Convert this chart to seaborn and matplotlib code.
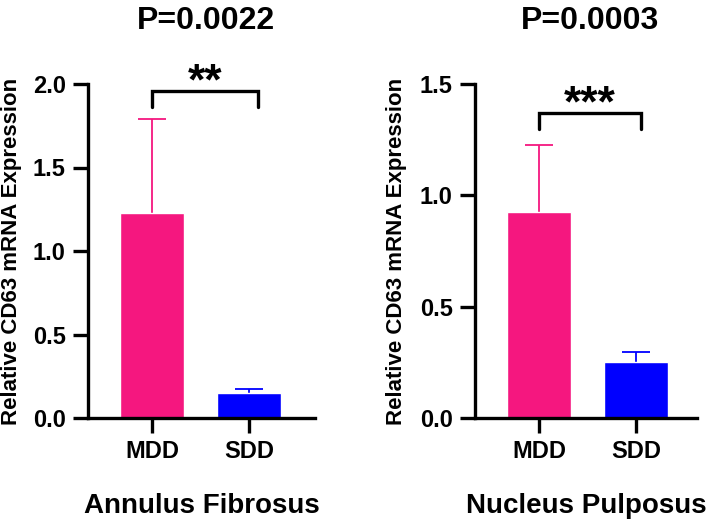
import numpy as np
import pandas as pd
import matplotlib
matplotlib.use("Agg")
import matplotlib.pyplot as plt
import seaborn as sns

# data
groups = ["MDD", "SDD"]
af_mean = [1.23, 0.15]
af_sd = [0.56, 0.025]
np_mean = [0.925, 0.25]
np_sd = [0.30, 0.045]
bar_colors = ["#F5177F", "#0000FF"]

panels = [
    dict(mean=af_mean, sd=af_sd, title="P=0.0022", stars="**", xlabel="Annulus Fibrosus",
         ymax=2.0, bracket_top=1.96, bracket_low=1.86, bracket_right=1.09),
    dict(mean=np_mean, sd=np_sd, title="P=0.0003", stars="***", xlabel="Nucleus Pulposus",
         ymax=1.5, bracket_top=1.37, bracket_low=1.30, bracket_right=1.05),
]

sns.set_style("ticks")
plt.rcParams['font.family'] = ['Liberation Sans', 'DejaVu Sans']
plt.rcParams['font.weight'] = 'bold'
for k in ["text.color", "axes.labelcolor", "xtick.color", "ytick.color", "axes.edgecolor"]:
    plt.rcParams[k] = "black"

fig = plt.figure(figsize=(7.08, 5.29), dpi=100)
W, H = 708, 529
# axes boxes in pixels: left, right, and y label x position
boxes = [(88, 315, -0.29), (475, 697, -0.305)]
y0_px, ytop_px = 418, 84

for (l, r, ylx), p in zip(boxes, panels):
    ax = fig.add_axes([l / W, 1 - y0_px / H, (r - l) / W, (y0_px - ytop_px) / H])
    df = pd.DataFrame({"group": groups, "value": p["mean"]})
    # error bars (upper only), drawn under the bars
    for i, (m, s, c) in enumerate(zip(p["mean"], p["sd"], bar_colors)):
        ax.vlines(i, m, m + s, color=c, lw=1.3, zorder=1)
        ax.hlines(m + s, i - 0.14, i + 0.14, color=c, lw=1.3, zorder=1)
    sns.barplot(data=df, x="group", y="value", hue="group", palette=bar_colors,
                width=0.66, errorbar=None, legend=False, ax=ax, saturation=1, zorder=2)
    ax.set_xlim(-0.66, -0.66 + (r - l) / 97)
    ax.set_ylim(0, p["ymax"])
    ticks = np.arange(0, p["ymax"] + 0.01, 0.5)
    ax.set_yticks(ticks)
    ax.set_yticklabels([f"{v:.1f}" for v in ticks])
    sns.despine(ax=ax)
    for sp in ["left", "bottom"]:
        ax.spines[sp].set_linewidth(2.4)
    ax.tick_params(axis="both", direction="out", length=11, width=2.4, labelsize=17, pad=5)
    for lab in ax.get_xticklabels() + ax.get_yticklabels():
        lab.set_fontweight("bold")
    ax.set_xlabel(p["xlabel"], fontsize=20, fontweight="bold")
    ax.xaxis.set_label_coords(0.5, -0.225)
    ax.set_ylabel("Relative CD63 mRNA Expression", fontsize=16, fontweight="bold")
    ax.yaxis.set_label_coords(ylx, 0.5)
    ax.text(0.52, 1.19, p["title"], transform=ax.transAxes, ha="center", va="center",
            fontsize=23, fontweight="bold")
    # significance bracket
    xr = p["bracket_right"]
    ax.plot([0, 0, xr, xr], [p["bracket_low"], p["bracket_top"], p["bracket_top"], p["bracket_low"]],
            color="black", lw=2.4, clip_on=False, solid_joinstyle="miter")
    ax.annotate(p["stars"], (xr / 2, p["bracket_top"]), xytext=(0, -9), textcoords="offset points",
                ha="center", va="bottom", fontsize=32, fontweight="bold", annotation_clip=False)

fig.savefig("out.png", dpi=100)
